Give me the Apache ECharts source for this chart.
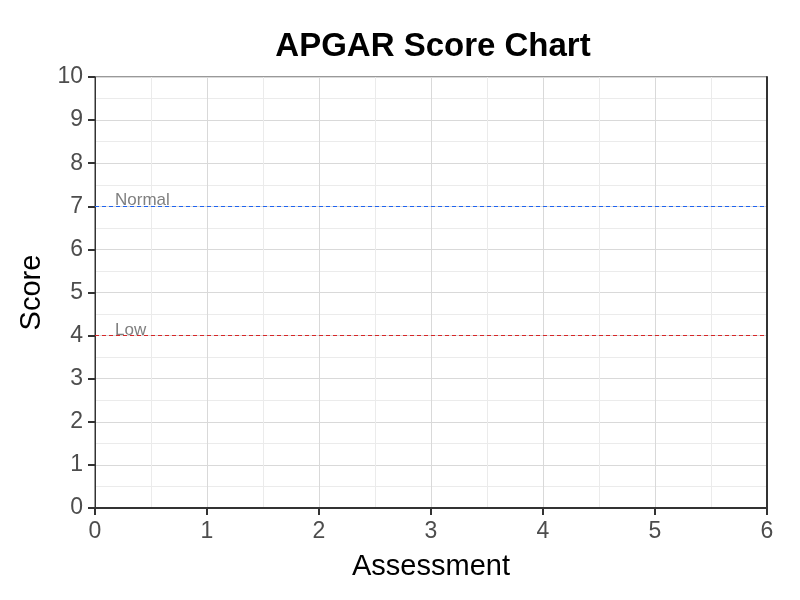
<!DOCTYPE html>
<html><head><meta charset="utf-8">
<script src="https://cdn.jsdelivr.net/npm/echarts@6/dist/echarts.min.js"></script>
<style>html,body{margin:0;padding:0;background:#fff}#c{width:800px;height:600px}</style>
</head><body><div id="c"></div>
<script>
const refLabels = ["Normal", "Low"];
const refValues = [7, 4];
const refColors = ["#1f63f0", "#d62728"];
const xTicks = [0, 1, 2, 3, 4, 5, 6];
const yTicks = [0, 1, 2, 3, 4, 5, 6, 7, 8, 9, 10];

const FONT = 'Arial, "Liberation Sans", sans-serif';
const chart = echarts.init(document.getElementById('c'), null, {renderer: 'canvas'});
const axisCommon = {
  axisLine: {show: true, onZero: false, lineStyle: {color: '#333', width: 1}},
  axisTick: {show: true, length: 7, lineStyle: {color: '#333', width: 2}},
  axisLabel: {color: '#4d4d4d', fontSize: 23, fontFamily: FONT, margin: 12},
  splitLine: {show: true, lineStyle: {color: '#d9d9d9', width: 1}},
  minorTick: {show: false, splitNumber: 2},
  minorSplitLine: {show: true, lineStyle: {color: '#ebebeb', width: 1}},
  nameTextStyle: {color: '#000', fontSize: 29, fontFamily: FONT}
};
chart.setOption({
  animation: false,
  title: {text: 'APGAR Score Chart', left: 428, top: 25, textAlign: 'center',
    textStyle: {fontSize: 33, fontWeight: 'bold', color: '#000', fontFamily: FONT}},
  grid: {left: 95, right: 33, top: 77, bottom: 92, show: true, borderColor: '#333', borderWidth: 1, backgroundColor: 'transparent'},
  xAxis: Object.assign({}, axisCommon, {type: 'value', min: xTicks[0], max: xTicks[xTicks.length-1], interval: 1,
    axisLine: {show: true, onZero: false, lineStyle: {color: '#333', width: 2}},
    name: 'Assessment', nameLocation: 'middle', nameGap: 44}),
  yAxis: [
    Object.assign({}, axisCommon, {type: 'value', min: yTicks[0], max: yTicks[yTicks.length-1], interval: 1,
      name: 'Score', nameLocation: 'middle', nameGap: 46}),
    {type: 'value', position: 'right', min: yTicks[0], max: yTicks[yTicks.length-1], interval: 1,
      axisLine: {show: true, onZero: false, lineStyle: {color: '#333', width: 2}},
      axisTick: {show: false}, axisLabel: {show: false}, splitLine: {show: false}}
  ],
  series: [{
    type: 'line', data: [], silent: true, yAxisIndex: 0,
    markLine: {
      silent: true, symbol: 'none',
      data: refValues.map((v, i) => ({
        yAxis: v,
        lineStyle: {color: refColors[i], type: [4, 3], width: 1},
        label: {show: true, formatter: refLabels[i], position: 'insideStartTop', distance: [20, -3],
          color: '#7f7f7f', fontSize: 17, fontFamily: FONT, padding: 0}
      }))
    }
  }]
});
</script></body></html>
